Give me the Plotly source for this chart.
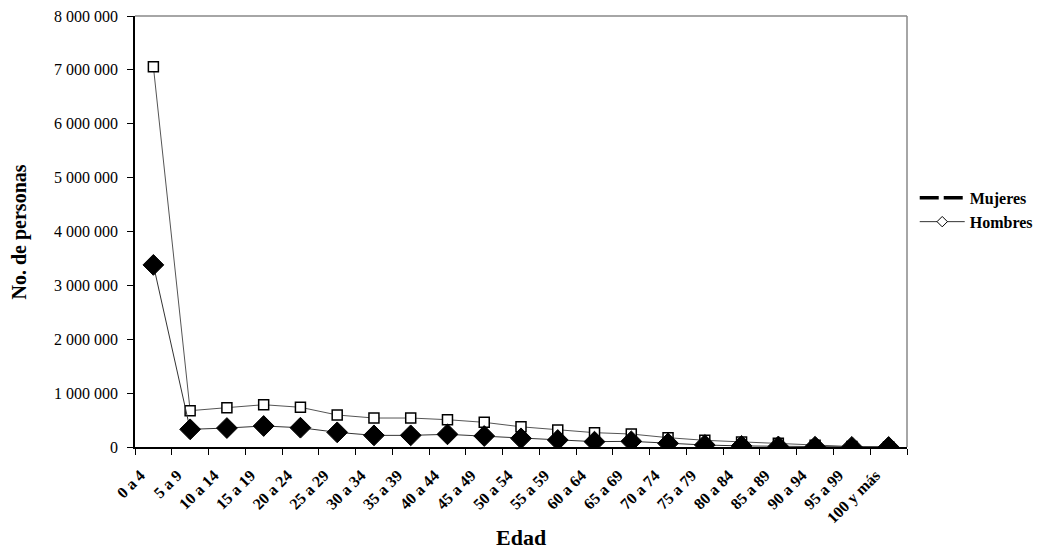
import plotly.graph_objects as go

categorias = ["0 a 4", "5 a 9", "10 a 14", "15 a 19", "20 a 24", "25 a 29", "30 a 34",
              "35 a 39", "40 a 44", "45 a 49", "50 a 54", "55 a 59", "60 a 64", "65 a 69",
              "70 a 74", "75 a 79", "80 a 84", "85 a 89", "90 a 94", "95 a 99", "100 y más"]

serie_superior = [7060000, 674000, 730000, 785000, 737000, 594000, 538000, 538000, 507000,
                  458000, 375000, 315000, 266000, 241000, 173000, 124000, 93000, 68000,
                  31000, 8000, 5000]

serie_inferior = [3380000, 328000, 352000, 390000, 358000, 272000, 216000, 216000, 235000,
                  204000, 161000, 130000, 99000, 105000, 68000, 37000, 20000, 10000,
                  5000, 2000, 1000]

y_ticks = [0, 1000000, 2000000, 3000000, 4000000, 5000000, 6000000, 7000000, 8000000]

FONT = "Liberation Serif"

fig = go.Figure()

fig.add_trace(go.Scatter(
    x=categorias, y=serie_superior, mode="lines+markers", showlegend=False,
    line=dict(color="#555555", width=1),
    marker=dict(symbol="square", size=10, color="white", line=dict(color="black", width=1.5)),
))
fig.add_trace(go.Scatter(
    x=categorias, y=serie_inferior, mode="lines+markers", showlegend=False,
    line=dict(color="#333333", width=1),
    marker=dict(symbol="diamond", size=16, color="black", line=dict(color="black", width=1)),
))
# legend entries as drawn in the reference
fig.add_trace(go.Scatter(
    x=[None], y=[None], mode="lines", name="<b>Mujeres</b>",
    line=dict(color="black", width=3.5, dash="19px,5px"),
))
fig.add_trace(go.Scatter(
    x=[None], y=[None], mode="lines+markers", name="<b>Hombres</b>",
    line=dict(color="#333333", width=1),
    marker=dict(symbol="diamond", size=8, color="white", line=dict(color="black", width=1)),
))

fig.update_layout(
    width=1043, height=553,
    margin=dict(l=127, r=144, t=8, b=114, autoexpand=False),
    paper_bgcolor="white", plot_bgcolor="white",
    separators=". ",
    font=dict(family=FONT, color="black"),
    legend=dict(x=1.01, y=0.55, xanchor="left", yanchor="middle",
                font=dict(family=FONT, size=16, color="black"),
                bgcolor="rgba(0,0,0,0)", tracegroupgap=2, itemwidth=45),
    xaxis=dict(
        type="category", tickson="boundaries", ticks="outside", ticklen=6,
        tickcolor="black", tickangle=-45, automargin=False,
        ticklabelshift=-13, ticklabelstandoff=11, ticklabeloverflow="allow",
        tickfont=dict(family=FONT, size=16, color="black", weight="bold"),
        showline=True, linecolor="black", linewidth=1.5, mirror=False,
        showgrid=False, zeroline=False,
        range=[-0.5, 20.5],
    ),
    yaxis=dict(
        range=[0, 8000000], tickvals=y_ticks, tickformat=",d",
        ticks="outside", ticklen=6, tickcolor="black", automargin=False,
        ticklabelstandoff=6, ticklabeloverflow="allow",
        tickfont=dict(family=FONT, size=16, color="black"),
        showline=True, linecolor="black", linewidth=1.5,
        showgrid=False, zeroline=False,
    ),
    annotations=[
        dict(text="<b>No. de personas</b>", xref="paper", yref="paper",
             x=-0.149, y=0.5, textangle=-90, showarrow=False,
             xanchor="center", yanchor="middle",
             font=dict(family=FONT, size=20, color="black")),
        dict(text="<b>Edad</b>", xref="paper", yref="paper",
             x=0.5, y=-0.211, showarrow=False,
             xanchor="center", yanchor="middle",
             font=dict(family=FONT, size=22, color="black")),
    ],
    shapes=[
        dict(type="line", xref="paper", yref="paper", x0=0, x1=1, y0=1, y1=1,
             layer="above", line=dict(color="#888888", width=1.5)),
        dict(type="line", xref="paper", yref="paper", x0=1, x1=1, y0=0, y1=1,
             layer="above", line=dict(color="#888888", width=1.5)),
    ],
)

fig.write_html("out.html")
